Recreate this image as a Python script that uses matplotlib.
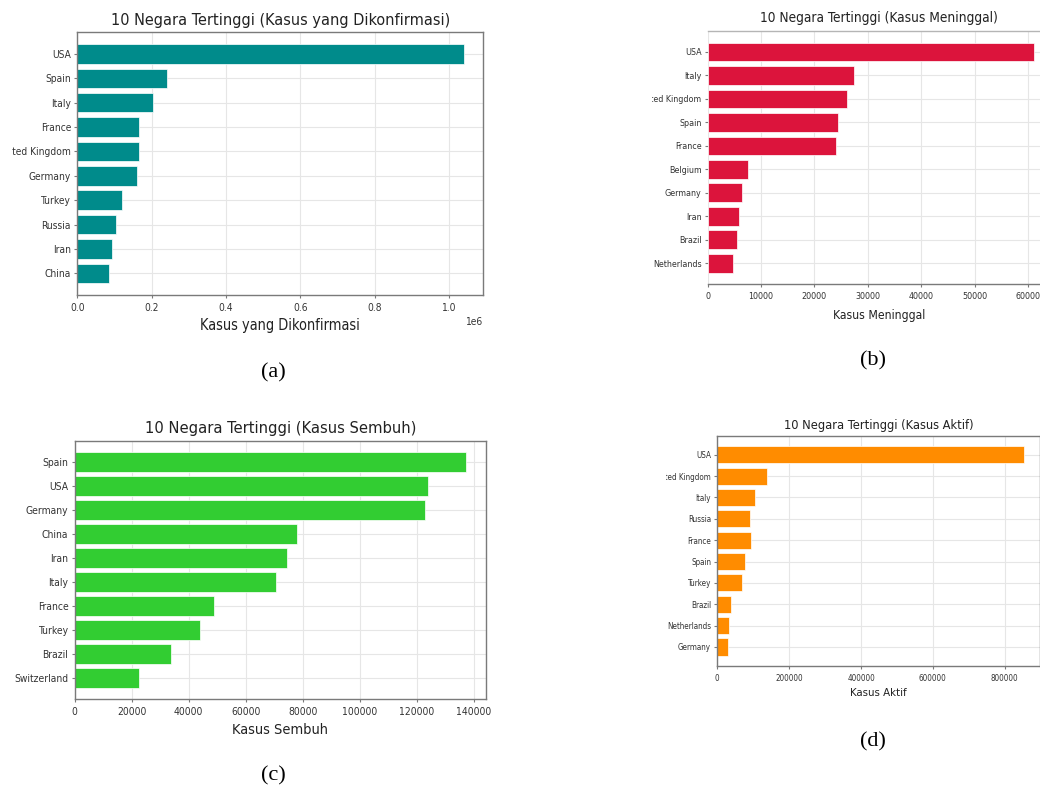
import os
import matplotlib
matplotlib.use("Agg")
import matplotlib.pyplot as plt
from matplotlib import font_manager
from matplotlib.font_manager import FontProperties
from matplotlib.ticker import MultipleLocator
from matplotlib.transforms import Bbox, TransformedBbox

# ---------------- data ----------------
conf_countries = ["USA", "Spain", "Italy", "France", "United Kingdom",
                  "Germany", "Turkey", "Russia", "Iran", "China"]
conf_values = [1040000, 240000, 204000, 166000, 166000,
               161000, 119000, 105000, 93000, 84000]

death_countries = ["USA", "Italy", "United Kingdom", "Spain", "France",
                   "Belgium", "Germany", "Iran", "Brazil", "Netherlands"]
death_values = [61200, 27500, 26100, 24400, 24100,
                7500, 6400, 5900, 5500, 4750]

rec_countries = ["Spain", "USA", "Germany", "China", "Iran",
                 "Italy", "France", "Turkey", "Brazil", "Switzerland"]
rec_values = [137300, 124000, 122900, 77900, 74500,
              70600, 48900, 43900, 33900, 22700]

act_countries = ["USA", "United Kingdom", "Italy", "Russia", "France",
                 "Spain", "Turkey", "Brazil", "Netherlands", "Germany"]
act_values = [854600, 138300, 104100, 91900, 92500,
              77100, 68800, 39100, 33500, 30700]

titles = ["10 Negara Tertinggi (Kasus yang Dikonfirmasi)",
          "10 Negara Tertinggi (Kasus Meninggal)",
          "10 Negara Tertinggi (Kasus Sembuh)",
          "10 Negara Tertinggi (Kasus Aktif)"]
xlabels = ["Kasus yang Dikonfirmasi", "Kasus Meninggal",
           "Kasus Sembuh", "Kasus Aktif"]
captions = ["(a)", "(b)", "(c)", "(d)"]
colors = ["#008B8B", "#DC143C", "#32CD32", "#FF8C00"]
tick_steps = [200000, 10000, 20000, 200000]

# ---------------- font choice (narrow look of the reference) ----------------
def pick_font_file():
    files = [f.fname for f in font_manager.fontManager.ttflist]
    for key in ("DejaVuSansCondensed.ttf", "LiberationSansNarrow-Regular.ttf"):
        for f in files:
            if os.path.basename(f) == key:
                return f
    return None

_ff = pick_font_file()


def make_fp(size):
    if _ff:
        fp = FontProperties(fname=_ff)
    else:
        fp = FontProperties(family="DejaVu Sans")
    fp.set_size(size)
    return fp

# ---------------- layout (pixels) ----------------
W, H = 1040, 790
fig = plt.figure(figsize=(W / 100, H / 100), dpi=100)
fig.patch.set_facecolor("white")
renderer = fig.canvas.get_renderer()


def fit_size(text, target_px):
    t = fig.text(0, 0, text, fontproperties=make_fp(10))
    w = t.get_window_extent(renderer).width
    t.remove()
    return 10.0 * target_px / w

panels = [
    dict(box=(77.3, 483.3, 32.3, 295.0), ty=20.0, tw=338, ly=325.5, lw=161, gw=42.0, clip=12),
    dict(box=(707.7, 1050.6, 31.0, 284.3), ty=18.3, tw=238, ly=315.0, lw=92.3, gw=36.7, clip=652),
    dict(box=(74.7, 485.7, 440.7, 699.3), ty=428.0, tw=270, ly=730.0, lw=96, gw=42.7, clip=None),
    dict(box=(717.3, 1039.7, 435.7, 666.0), ty=425.5, tw=190, ly=693.0, lw=56.7, gw=33.0, clip=666),
]
data = [(conf_countries, conf_values), (death_countries, death_values),
        (rec_countries, rec_values), (act_countries, act_values)]

caption_pos = [(273, 373), (873, 361), (273, 776), (873, 742)]

axes = []
tick_fps = []
for i, p in enumerate(panels):
    l, r, t, b = p["box"]
    ax = fig.add_axes([l / W, 1 - b / H, (r - l) / W, (b - t) / H])
    axes.append(ax)
    cats, vals = data[i]
    ax.barh(cats, vals, color=colors[i], height=0.8, zorder=2,
            edgecolor="#ffffff", linewidth=0.5)
    ax.invert_yaxis()
    ax.xaxis.set_major_locator(MultipleLocator(tick_steps[i]))
    ax.set_axisbelow(True)
    ax.grid(True, color="#e6e6e6", linewidth=0.8, zorder=0)
    for s in ax.spines.values():
        s.set_color("#7a7a7a")
        s.set_linewidth(1.0)
    if i == 1:
        ax.spines["left"].set_visible(False)
        ax.spines["top"].set_color("#b5b5b5")
    ax.tick_params(axis="both", colors="#7a7a7a", labelcolor="#333333",
                   length=2.5, width=0.8)
    ax.tick_params(axis="x", pad=3.2)
    ax.tick_params(axis="y", pad=2.0)

    tfp = make_fp(fit_size(titles[i], p["tw"]))
    ax.set_title(titles[i], fontproperties=tfp, color="#222222", pad=0,
                 y=1 - (p["ty"] - t) / (b - t), va="center")
    lfp = make_fp(fit_size(xlabels[i], p["lw"]))
    ax.set_xlabel(xlabels[i], fontproperties=lfp, color="#222222", va="center")
    ax.xaxis.set_label_coords(0.5, -(p["ly"] - b) / (b - t))
    tick_fps.append(make_fp(fit_size("Germany", p["gw"])))

    cx, cy = caption_pos[i]
    fig.text(cx / W, 1 - cy / H, captions[i], fontsize=16,
             family="Liberation Serif", ha="center", va="center", color="black")

fig.canvas.draw()
for i, p in enumerate(panels):
    ax = axes[i]
    for tk in ax.xaxis.get_major_ticks() + ax.yaxis.get_major_ticks():
        tk.label1.set_fontproperties(tick_fps[i])
    ax.xaxis.get_offset_text().set_fontproperties(tick_fps[i])
    ax.xaxis.get_offset_text().set_color("#333333")
    if p["clip"] is not None:
        cb = TransformedBbox(Bbox([[p["clip"] / W, 0.0], [1.0, 1.0]]), fig.transFigure)
        for tk in ax.yaxis.get_major_ticks():
            tk.label1.set_clip_on(True)
            tk.label1.set_clip_box(cb)

fig.savefig("out.png", dpi=100, facecolor="white")
